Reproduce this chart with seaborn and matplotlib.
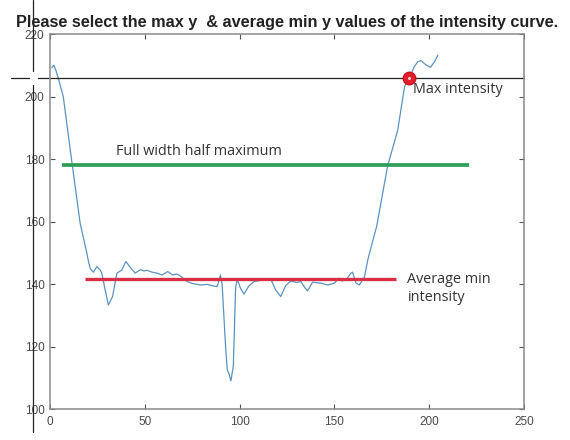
import matplotlib
matplotlib.use("Agg")
import matplotlib.pyplot as plt
import seaborn as sns
import pandas as pd

# ---- data ----
x_vals = [1, 2, 3, 4.4, 7, 11.8, 15.9, 19.4, 20.3, 21.2, 22.9, 24.7, 26.5, 27.3, 29.1,
          30.8, 33, 35.3, 37.9, 40, 42.3, 44.9, 47.6, 49.5, 51.2, 53.8, 56.5, 59.1,
          62.1, 64.7, 66.8, 68.8, 72.3, 75, 79.4, 83, 86, 88.2, 89.9, 90.8, 92.6,
          93.5, 94.3, 95.4, 96.7, 97.9, 98.8, 100.5, 102.3, 104.9, 107.6, 112,
          116.4, 119, 121.7, 124.3, 127, 130, 132.3, 134, 135.8, 138.5, 142.9,
          146.4, 149.9, 152.5, 154, 156.1, 158.7, 159.6, 161.4, 163.1, 165.8,
          167.6, 170.3, 172.3, 178.1, 183.4, 187, 189.6, 192, 194, 195.8, 198.4,
          200.7, 202.8, 204.6]
y_vals = [209.3, 210.1, 208.6, 205.9, 200, 177.9, 159.5, 150, 147.2, 145, 143.8, 145.6,
          144.5, 143.5, 138.1, 133.3, 136, 143.5, 144.5, 147.2, 145.4, 143.5, 144.6,
          144.2, 144.4, 143.8, 143.5, 142.9, 144, 142.9, 143.2, 142.6, 140.8, 140.2,
          139.7, 139.9, 139.4, 139.2, 142.9, 139.7, 120, 112.5, 111.5, 109, 113.8,
          139, 141.5, 138.6, 136.8, 139.4, 140.8, 141.3, 141.7, 138.1, 136, 139.5,
          141, 140.5, 140.8, 139.2, 137.8, 140.6, 140.3, 139.7, 140.3, 141.9, 141,
          141.3, 143.5, 143.8, 140.3, 139.7, 142.2, 147.7, 154, 158.5, 177.9, 189.3,
          203.2, 206, 209.5, 211.2, 211.5, 210.1, 209.4, 211.2, 213.3]

max_point = (189.6, 206.0)
fwhm_y = 178.0
fwhm_x = [6.2, 221.0]
avg_min_y = 141.6
avg_min_x = [18.5, 182.5]

x_ticks = [0, 50, 100, 150, 200, 250]
y_ticks = [100, 120, 140, 160, 180, 200, 220]

title = "Please select the max y  & average min y values of the intensity curve."

# ---- styling ----
sns.set_style("white")
plt.rcParams["font.family"] = ["Liberation Sans", "DejaVu Sans"]

fig = plt.figure(figsize=(5.7, 4.4), dpi=100)
ax = fig.add_axes([50 / 570, 1 - 409 / 440, 474 / 570, (409 - 34.2) / 440])

df = pd.DataFrame({"x": x_vals, "y": y_vals})
sns.lineplot(data=df, x="x", y="y", ax=ax, sort=False, estimator=None,
             color="#5b93bf", linewidth=0.9)

ax.plot(fwhm_x, [fwhm_y, fwhm_y], color="#2e9d58", linewidth=2.7, solid_capstyle="butt")
ax.plot(avg_min_x, [avg_min_y, avg_min_y], color="#d93048", linewidth=2.4,
        solid_capstyle="butt")

# crosshair (cursor)
ax.plot([-20.5, -11], [max_point[1], max_point[1]], color="#222222", lw=0.9, clip_on=False)
ax.plot([-6.5, 250], [max_point[1], max_point[1]], color="#222222", lw=0.9, clip_on=False)
ax.plot([-8.8, -8.8], [231, 208.3], color="#222222", lw=0.9, clip_on=False)
ax.plot([-8.8, -8.8], [203.6, 92.5], color="#222222", lw=0.9, clip_on=False)

# max marker
ax.plot([max_point[0]], [max_point[1]], marker="o", markersize=9,
        markerfacecolor="#e2202c", markeredgecolor="#d01020", linestyle="none", zorder=5)
ax.plot([max_point[0]], [max_point[1]], marker="o", markersize=2.2,
        markerfacecolor="#ffd0d0", markeredgecolor="none", linestyle="none", zorder=6)

txt_kw = dict(color="#333333", fontsize=10.4, family=["Open Sans", "DejaVu Sans"])
ax.text(35, 182.4, "Full width half maximum", ha="left", va="center", **txt_kw)
ax.text(191.5, 202.4, "Max intensity", ha="left", va="center", **txt_kw)
ax.text(188.5, 138.5, "Average min\nintensity", ha="left", va="center",
        linespacing=1.3, **txt_kw)

ax.set_xlim(0, 250)
ax.set_ylim(100, 220)
ax.set_xticks(x_ticks)
ax.set_yticks(y_ticks)
ax.set_xticklabels([str(t) for t in x_ticks])
ax.set_yticklabels([str(t) for t in y_ticks])
ax.set_xlabel("")
ax.set_ylabel("")
ax.tick_params(direction="in", length=3.5, width=0.8, color="#555555",
               labelcolor="#4a4a4a", labelsize=8.5, top=True, right=True,
               bottom=True, left=True)
ax.tick_params(axis="x", pad=5)
ax.tick_params(axis="y", pad=4)
for s in ax.spines.values():
    s.set_color("#8a8a8a")
    s.set_linewidth(1.1)
    s.set_visible(True)

fig.text(0.503, 1 - 22.5 / 440, title, ha="center", va="center",
         fontsize=11.7, fontweight="bold", color="#222222")

fig.savefig("out.png", dpi=100, facecolor="white")
